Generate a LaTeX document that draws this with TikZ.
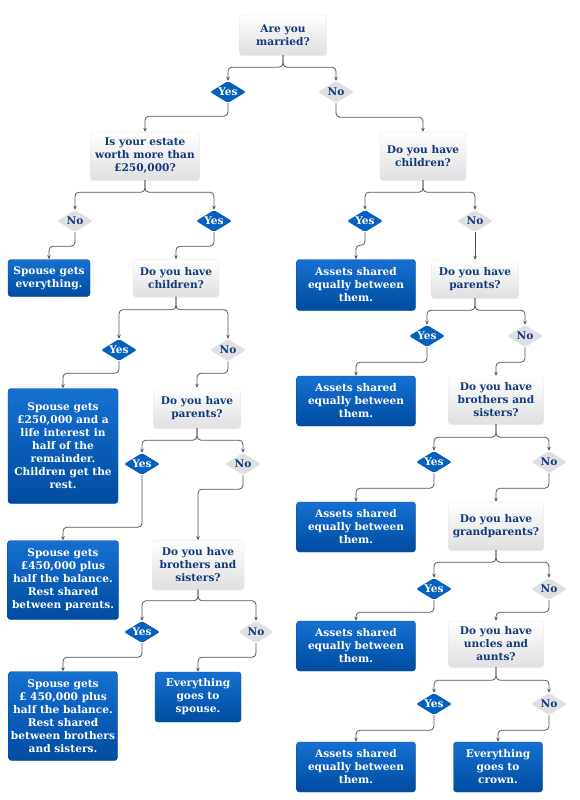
\documentclass[tikz,border=0pt]{standalone}
\usepackage{fontspec}
\setmainfont{DejaVu Serif}
\usepackage{tikz}
\usetikzlibrary{shapes,arrows.meta,positioning,calc,shadows}
\definecolor{textblue}{RGB}{16,58,122}
\definecolor{answerblue}{RGB}{22,112,208}
\definecolor{answerdark}{RGB}{0,76,160}
\definecolor{yesblue}{RGB}{6,96,190}
\definecolor{questiongray}{RGB}{224,224,226}
\definecolor{linegray}{RGB}{85,85,85}

\tikzset{
  boxfont/.style={font=\fontsize{10.6}{13}\selectfont\bfseries},
  qbox/.style={rectangle, rounded corners=3pt, draw=black!10, top color=white, bottom color=questiongray,
    text=textblue, align=center, inner sep=1pt, boxfont,
    drop shadow={opacity=0.12, shadow xshift=0pt, shadow yshift=-1.2pt}},
  abox/.style={rectangle, rounded corners=3pt, draw=answerdark, top color=answerblue, bottom color=answerdark,
    text=white, align=center, inner sep=1pt, boxfont},
  yesdia/.style={diamond, aspect=1.6, rounded corners=2pt, fill=yesblue, text=white,
    inner sep=0.5pt, minimum width=36pt, minimum height=22pt, boxfont},
  nodia/.style={diamond, aspect=1.6, rounded corners=2pt, fill=questiongray, text=textblue,
    inner sep=0.5pt, minimum width=36pt, minimum height=22pt, boxfont},
  link/.style={draw=linegray, line width=0.8pt, rounded corners=4pt, -{Stealth[length=4pt,width=3.5pt]}}
}

\begin{document}
\begin{tikzpicture}[x=1pt, y=-1pt]
    \path[use as bounding box, fill=white] (0,0) rectangle (579,800);

    % Start
    \node[qbox, minimum width=87pt, minimum height=40pt] (married) at (283,35) {Are you\\married?};
    \node[yesdia] (yesA) at (228,92) {Yes};
    \node[nodia] (noA) at (336,92) {No};

    % Married branch
    \node[qbox, minimum width=109pt, minimum height=48pt] (estate) at (145,156) {Is your estate\\worth more than\\£250,000?};
    \node[nodia] (noB) at (75,221) {No};
    \node[yesdia] (yesB) at (214,221) {Yes};
    \node[abox, minimum width=82pt, minimum height=37pt] (spouseall) at (49,278) {Spouse gets\\everything.};
    \node[qbox, minimum width=86pt, minimum height=37pt] (childL) at (176,278) {Do you have\\children?};
    \node[yesdia] (yesD) at (119,350) {Yes};
    \node[nodia] (noD) at (228,350) {No};
    \node[abox, minimum width=110pt, minimum height=115pt] (childshare) at (63,446)
        {Spouse gets\\£250,000 and a\\life interest in\\half of the\\remainder.\\Children get the\\rest.};
    \node[qbox, minimum width=87pt, minimum height=40pt] (parentsL) at (197,408) {Do you have\\parents?};
    \node[yesdia] (yesE) at (142,464) {Yes};
    \node[nodia] (noE) at (243,464) {No};
    \node[abox, minimum width=111pt, minimum height=79pt] (parentshare) at (63,580)
        {Spouse gets\\£450,000 plus\\half the balance.\\Rest shared\\between parents.};
    \node[qbox, minimum width=92pt, minimum height=49pt] (sibL) at (198,565) {Do you have\\brothers and\\sisters?};
    \node[yesdia] (yesF) at (142,632) {Yes};
    \node[nodia] (noF) at (256,632) {No};
    \node[abox, minimum width=109pt, minimum height=89pt] (sibshare) at (63,716)
        {Spouse gets\\£ 450,000 plus\\half the balance.\\Rest shared\\between brothers\\and sisters.};
    \node[abox, minimum width=86pt, minimum height=50pt] (tospouse) at (198,697) {Everything\\goes to\\spouse.};

    % Unmarried branch
    \node[qbox, minimum width=86pt, minimum height=48pt] (childR) at (423,156) {Do you have\\children?};
    \node[yesdia] (yesC) at (365,221) {Yes};
    \node[nodia] (noC) at (475,221) {No};
    \node[abox, minimum width=119pt, minimum height=51pt] (assetsA) at (356,285) {Assets shared\\equally between\\them.};
    \node[qbox, minimum width=87pt, minimum height=38pt] (parentsR) at (475,279) {Do you have\\parents?};
    \node[yesdia] (yesG) at (427,336) {Yes};
    \node[nodia] (noG) at (525,336) {No};
    \node[abox, minimum width=119pt, minimum height=50pt] (assetsB) at (356,401) {Assets shared\\equally between\\them.};
    \node[qbox, minimum width=95pt, minimum height=48pt] (sibR) at (496,400) {Do you have\\brothers and\\sisters?};
    \node[yesdia] (yesH) at (434,462) {Yes};
    \node[nodia] (noH) at (549,462) {No};
    \node[abox, minimum width=119pt, minimum height=50pt] (assetsC) at (356,527) {Assets shared\\equally between\\them.};
    \node[qbox, minimum width=95pt, minimum height=48pt] (grandR) at (496,526) {Do you have\\grandparents?};
    \node[yesdia] (yesI) at (434,589) {Yes};
    \node[nodia] (noI) at (549,589) {No};
    \node[abox, minimum width=119pt, minimum height=50pt] (assetsD) at (356,646) {Assets shared\\equally between\\them.};
    \node[qbox, minimum width=95pt, minimum height=46pt] (unclesR) at (496,644) {Do you have\\uncles and\\aunts?};
    \node[yesdia] (yesJ) at (434,704) {Yes};
    \node[nodia] (noJ) at (549,704) {No};
    \node[abox, minimum width=119pt, minimum height=50pt] (assetsE) at (356,767) {Assets shared\\equally between\\them.};
    \node[abox, minimum width=89pt, minimum height=50pt] (crown) at (498,767) {Everything\\goes to\\crown.};

    % Connectors
    \draw[link] (married.south) -- ++(0,12) -| (yesA.north);
    \draw[link] (married.south) -- ++(0,12) -| (noA.north);
    \draw[link] (yesA.south) -- ++(0,13) -| (estate.north);
    \draw[link] (noA.south) -- ++(0,14) -| (childR.north);

    \draw[link] (estate.south) -- ++(0,12) -| (noB.north);
    \draw[link] (estate.south) -- ++(0,12) -| (yesB.north);
    \draw[link] (noB.south) -- ++(0,14) -| (spouseall.north);
    \draw[link] (yesB.south) -- ++(0,14) -| (childL.north);
    \draw[link] (childL.south) -- ++(0,13) -| (yesD.north);
    \draw[link] (childL.south) -- ++(0,13) -| (noD.north);
    \draw[link] (yesD.south) -- ++(0,12) -| (childshare.north);
    \draw[link] (noD.south) -- ++(0,12) -| (parentsL.north);
    \draw[link] (parentsL.south) -- ++(0,12) -| (yesE.north);
    \draw[link] (parentsL.south) -- ++(0,12) -| (noE.north);
    \draw[link] (yesE.south) -- ++(0,52) -| (parentshare.north);
    \draw[link] (noE.south) -- ++(0,14) -| (sibL.north);
    \draw[link] (sibL.south) -- ++(0,11) -| (yesF.north);
    \draw[link] (sibL.south) -- ++(0,11) -| (noF.north);
    \draw[link] (yesF.south) -- ++(0,14) -| (sibshare.north);
    \draw[link] (noF.south) -- ++(0,14) -| (tospouse.north);

    \draw[link] (childR.south) -- ++(0,12) -| (yesC.north);
    \draw[link] (childR.south) -- ++(0,12) -| (noC.north);
    \draw[link] (yesC.south) -- ++(0,13) -| (assetsA.north);
    \draw[link] (noC.south) -- (parentsR.north);
    \draw[link] (parentsR.south) -- ++(0,12) -| (yesG.north);
    \draw[link] (parentsR.south) -- ++(0,12) -| (noG.north);
    \draw[link] (yesG.south) -- ++(0,15) -| (assetsB.north);
    \draw[link] (noG.south) -- ++(0,15) -| (sibR.north);
    \draw[link] (sibR.south) -- ++(0,13) -| (yesH.north);
    \draw[link] (sibR.south) -- ++(0,13) -| (noH.north);
    \draw[link] (yesH.south) -- ++(0,15) -| (assetsC.north);
    \draw[link] (noH.south) -- ++(0,15) -| (grandR.north);
    \draw[link] (grandR.south) -- ++(0,12) -| (yesI.north);
    \draw[link] (grandR.south) -- ++(0,12) -| (noI.north);
    \draw[link] (yesI.south) -- ++(0,12) -| (assetsD.north);
    \draw[link] (noI.south) -- ++(0,12) -| (unclesR.north);
    \draw[link] (unclesR.south) -- ++(0,13) -| (yesJ.north);
    \draw[link] (unclesR.south) -- ++(0,13) -| (noJ.north);
    \draw[link] (yesJ.south) -- ++(0,15) -| (assetsE.north);
    \draw[link] (noJ.south) -- ++(0,15) -| (crown.north);
\end{tikzpicture}
\end{document}
